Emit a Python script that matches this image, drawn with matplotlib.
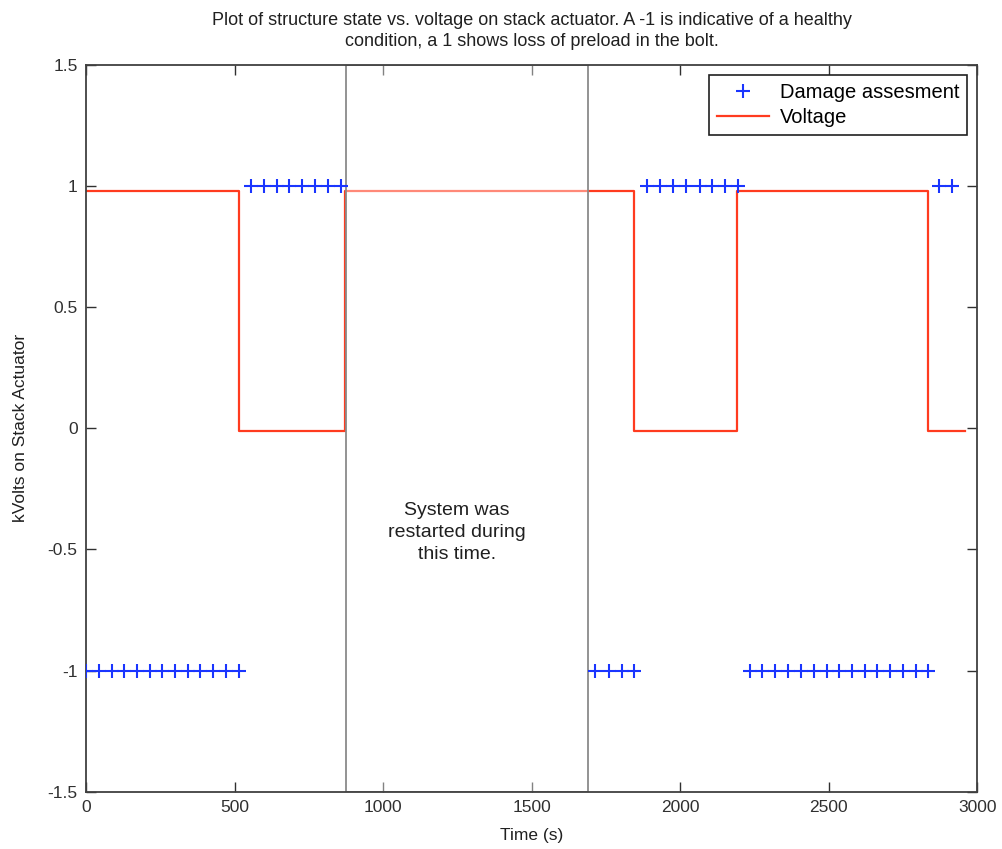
import matplotlib
matplotlib.use("Agg")
import matplotlib.pyplot as plt
from matplotlib.patches import Rectangle

plt.rcParams['font.family'] = ['Liberation Sans', 'DejaVu Sans']

# Damage assessment points (time in s, state)
dmg_time_1 = [0, 43, 86, 128, 171, 214, 257, 300, 343, 385, 428, 471, 514]
dmg_state_1 = [-1] * 13
dmg_time_2 = [556, 599, 642, 685, 728, 771, 814, 857]
dmg_state_2 = [1] * 8
dmg_time_3 = [1715, 1760, 1803, 1846]
dmg_state_3 = [-1] * 4
dmg_time_4 = [1887, 1931, 1976, 2021, 2066, 2108, 2151, 2195]
dmg_state_4 = [1] * 8
dmg_time_5 = [2234, 2277, 2321, 2364, 2408, 2451, 2493, 2536, 2578, 2621, 2664, 2706, 2750, 2793, 2836]
dmg_state_5 = [-1] * 15
dmg_time_6 = [2873, 2916]
dmg_state_6 = [1] * 2

# Voltage (step changes)
volt_time = [0, 515, 871, 1845, 2193, 2835, 2960]
volt_kv = [0.98, -0.01, 0.98, -0.01, 0.98, -0.01, -0.01]

# Restart window
restart_start = 877
restart_end = 1690

xticks = [0, 500, 1000, 1500, 2000, 2500, 3000]
yticks = [-1.5, -1, -0.5, 0, 0.5, 1, 1.5]
ytick_labels = ['-1.5', '-1', '-0.5', '0', '0.5', '1', '1.5']

dmg_time = dmg_time_1 + dmg_time_2 + dmg_time_3 + dmg_time_4 + dmg_time_5 + dmg_time_6
dmg_state = dmg_state_1 + dmg_state_2 + dmg_state_3 + dmg_state_4 + dmg_state_5 + dmg_state_6

fig = plt.figure(figsize=(10.02, 8.49), dpi=100)
ax = fig.add_axes([0.0858, 0.0675, 0.8894, 0.8559])

text_color = '#202020'
ax.plot(dmg_time, dmg_state, linestyle='none', marker='+', markersize=10,
        markeredgewidth=1.5, color='#1a35ff', label='Damage assesment', zorder=3)
ax.plot(volt_time, volt_kv, drawstyle='steps-post', color='#ff3b1f', linewidth=1.6,
        label='Voltage', zorder=2)

rect = Rectangle((restart_start, -1.5), restart_end - restart_start, 3.0,
                 facecolor=(1, 1, 1, 0.4), edgecolor='#8a8a8a', linewidth=1.3, zorder=2.5)
ax.add_patch(rect)

ax.text((restart_start + restart_end) / 2 - 35, -0.43,
        'System was\nrestarted during\nthis time.', ha='center', va='center',
        fontsize=14, color=text_color, linespacing=1.35, zorder=4)

ax.set_xlim(0, 3000)
ax.set_ylim(-1.5, 1.5)
ax.set_xticks(xticks)
ax.set_yticks(yticks)
ax.set_yticklabels(ytick_labels)
ax.tick_params(direction='in', length=7, width=1, top=True, right=True,
               labelsize=12.5, colors='#303030', pad=6)
for s in ax.spines.values():
    s.set_color('#404040')
    s.set_linewidth(1.3)

ax.set_xlabel('Time (s)', fontsize=12.5, color=text_color, labelpad=9)
ax.set_ylabel('kVolts on Stack Actuator', fontsize=12.5, color=text_color, labelpad=14)
ax.set_title('Plot of structure state vs. voltage on stack actuator. A -1 is indicative of a healthy\ncondition, a 1 shows loss of preload in the bolt.',
             fontsize=13, color=text_color, pad=14, linespacing=1.3)

leg = ax.legend(loc='upper right', fontsize=14.5, frameon=True, fancybox=False,
                framealpha=1, edgecolor='#202020', borderpad=0.4, handlelength=2.6,
                handletextpad=0.5, labelspacing=0.3, borderaxespad=0.5)
leg.get_frame().set_linewidth(1.2)

fig.savefig('out.png', dpi=100)
